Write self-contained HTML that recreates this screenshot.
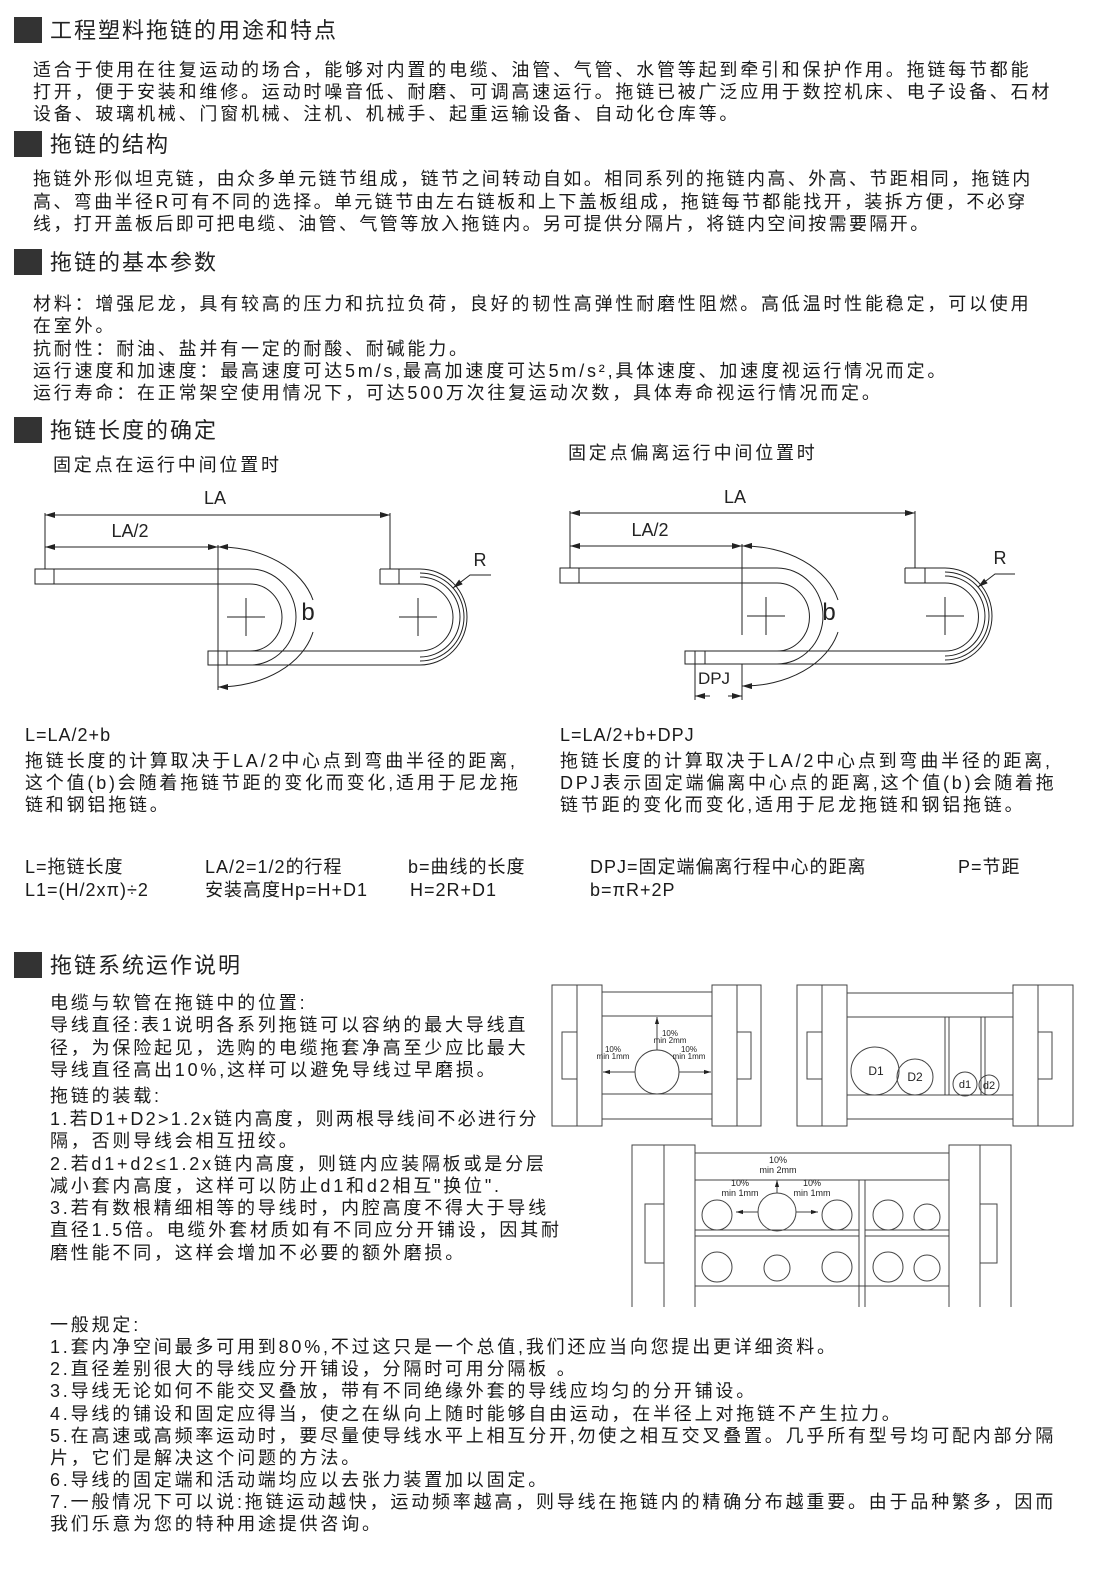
<!DOCTYPE html>
<html><head><meta charset="utf-8">
<style>
body{margin:0;background:#fff;}
#p{position:relative;width:1100px;height:1585px;overflow:hidden;background:#fff;font-family:"Liberation Sans","Noto Sans CJK SC",sans-serif;color:#1a1a1a;}
#t{position:absolute;left:0;top:4px;width:1100px;height:1585px;}
.l{position:absolute;white-space:nowrap;font-size:18px;letter-spacing:2.8px;line-height:22px;}
.h{position:absolute;white-space:nowrap;font-size:22px;letter-spacing:2px;line-height:28px;color:#222;}
.sq{position:absolute;left:14px;width:28px;height:26px;background:#333;}
svg{position:absolute;left:0;top:0;}
</style></head><body><div id="p"><div id="t">
<div class="sq" style="top:13px"></div><div class="h" style="left:50px;top:13px">工程塑料拖链的用途和特点</div>
<div class="l" style="left:33px;top:55px">适合于使用在往复运动的场合，能够对内置的电缆、油管、气管、水管等起到牵引和保护作用。拖链每节都能</div>
<div class="l" style="left:33px;top:77px">打开，便于安装和维修。运动时噪音低、耐磨、可调高速运行。拖链已被广泛应用于数控机床、电子设备、石材</div>
<div class="l" style="left:33px;top:99px">设备、玻璃机械、门窗机械、注机、机械手、起重运输设备、自动化仓库等。</div>

<div class="sq" style="top:127px"></div><div class="h" style="left:50px;top:127px">拖链的结构</div>
<div class="l" style="left:33px;top:164px;letter-spacing:2.4px">拖链外形似坦克链，由众多单元链节组成，链节之间转动自如。相同系列的拖链内高、外高、节距相同，拖链内</div>
<div class="l" style="left:33px;top:187px;letter-spacing:2.4px">高、弯曲半径R可有不同的选择。单元链节由左右链板和上下盖板组成，拖链每节都能找开，装拆方便，不必穿</div>
<div class="l" style="left:33px;top:209px;letter-spacing:2.4px">线，打开盖板后即可把电缆、油管、气管等放入拖链内。另可提供分隔片，将链内空间按需要隔开。</div>

<div class="sq" style="top:245px"></div><div class="h" style="left:50px;top:245px">拖链的基本参数</div>
<div class="l" style="left:33px;top:289px">材料：增强尼龙，具有较高的压力和抗拉负荷，良好的韧性高弹性耐磨性阻燃。高低温时性能稳定，可以使用</div>
<div class="l" style="left:33px;top:311px">在室外。</div>
<div class="l" style="left:33px;top:334px">抗耐性：耐油、盐并有一定的耐酸、耐碱能力。</div>
<div class="l" style="left:33px;top:356px">运行速度和加速度：最高速度可达5m/s,最高加速度可达5m/s²,具体速度、加速度视运行情况而定。</div>
<div class="l" style="left:33px;top:378px">运行寿命：在正常架空使用情况下，可达500万次往复运动次数，具体寿命视运行情况而定。</div>

<div class="sq" style="top:413px"></div><div class="h" style="left:50px;top:413px">拖链长度的确定</div>
<div class="l" style="left:53px;top:450px">固定点在运行中间位置时</div>
<div class="l" style="left:568px;top:438px">固定点偏离运行中间位置时</div>

<div class="l" style="left:25px;top:720px;letter-spacing:1px">L=LA/2+b</div>
<div class="l" style="left:25px;top:746px">拖链长度的计算取决于LA/2中心点到弯曲半径的距离,</div>
<div class="l" style="left:25px;top:768px">这个值(b)会随着拖链节距的变化而变化,适用于尼龙拖</div>
<div class="l" style="left:25px;top:790px">链和钢铝拖链。</div>
<div class="l" style="left:560px;top:720px;letter-spacing:1px">L=LA/2+b+DPJ</div>
<div class="l" style="left:560px;top:746px">拖链长度的计算取决于LA/2中心点到弯曲半径的距离,</div>
<div class="l" style="left:560px;top:768px">DPJ表示固定端偏离中心点的距离,这个值(b)会随着拖</div>
<div class="l" style="left:560px;top:790px">链节距的变化而变化,适用于尼龙拖链和钢铝拖链。</div>

<div class="l" style="left:25px;top:852px;letter-spacing:1px">L=拖链长度</div>
<div class="l" style="left:205px;top:852px;letter-spacing:1px">LA/2=1/2的行程</div>
<div class="l" style="left:408px;top:852px;letter-spacing:1px">b=曲线的长度</div>
<div class="l" style="left:590px;top:852px;letter-spacing:1px">DPJ=固定端偏离行程中心的距离</div>
<div class="l" style="left:958px;top:852px;letter-spacing:1px">P=节距</div>
<div class="l" style="left:25px;top:875px;letter-spacing:1px">L1=(H/2xπ)÷2</div>
<div class="l" style="left:205px;top:875px;letter-spacing:1px">安装高度Hp=H+D1</div>
<div class="l" style="left:410px;top:875px;letter-spacing:1px">H=2R+D1</div>
<div class="l" style="left:590px;top:875px;letter-spacing:1px">b=πR+2P</div>

<div class="sq" style="top:948px"></div><div class="h" style="left:50px;top:948px">拖链系统运作说明</div>
<div class="l" style="left:50px;top:988px">电缆与软管在拖链中的位置:</div>
<div class="l" style="left:50px;top:1010px">导线直径:表1说明各系列拖链可以容纳的最大导线直</div>
<div class="l" style="left:50px;top:1033px">径，为保险起见，选购的电缆拖套净高至少应比最大</div>
<div class="l" style="left:50px;top:1055px">导线直径高出10%,这样可以避免导线过早磨损。</div>
<div class="l" style="left:50px;top:1081px">拖链的装载:</div>
<div class="l" style="left:50px;top:1104px;letter-spacing:2.3px">1.若D1+D2&gt;1.2x链内高度，则两根导线间不必进行分</div>
<div class="l" style="left:50px;top:1126px">隔，否则导线会相互扭绞。</div>
<div class="l" style="left:50px;top:1149px">2.若d1+d2≤1.2x链内高度，则链内应装隔板或是分层</div>
<div class="l" style="left:50px;top:1171px">减小套内高度，这样可以防止d1和d2相互"换位".</div>
<div class="l" style="left:50px;top:1193px">3.若有数根精细相等的导线时，内腔高度不得大于导线</div>
<div class="l" style="left:50px;top:1215px">直径1.5倍。电缆外套材质如有不同应分开铺设，因其耐</div>
<div class="l" style="left:50px;top:1238px">磨性能不同，这样会增加不必要的额外磨损。</div>

<div class="l" style="left:50px;top:1310px">一般规定:</div>
<div class="l" style="left:50px;top:1332px">1.套内净空间最多可用到80%,不过这只是一个总值,我们还应当向您提出更详细资料。</div>
<div class="l" style="left:50px;top:1354px">2.直径差别很大的导线应分开铺设，分隔时可用分隔板 。</div>
<div class="l" style="left:50px;top:1376px">3.导线无论如何不能交叉叠放，带有不同绝缘外套的导线应均匀的分开铺设。</div>
<div class="l" style="left:50px;top:1399px">4.导线的铺设和固定应得当，使之在纵向上随时能够自由运动，在半径上对拖链不产生拉力。</div>
<div class="l" style="left:50px;top:1421px">5.在高速或高频率运动时，要尽量使导线水平上相互分开,勿使之相互交叉叠置。几乎所有型号均可配内部分隔</div>
<div class="l" style="left:50px;top:1443px">片，它们是解决这个问题的方法。</div>
<div class="l" style="left:50px;top:1465px">6.导线的固定端和活动端均应以去张力装置加以固定。</div>
<div class="l" style="left:50px;top:1487px">7.一般情况下可以说:拖链运动越快，运动频率越高，则导线在拖链内的精确分布越重要。由于品种繁多，因而</div>
<div class="l" style="left:50px;top:1509px">我们乐意为您的特种用途提供咨询。</div>
</div>

<svg width="1100" height="1585" viewBox="0 0 1100 1585" fill="none" stroke="#222" stroke-width="1">
<defs>
<marker id="a" viewBox="0 0 10 6" refX="10" refY="3" markerWidth="10" markerHeight="6" orient="auto-start-reverse" markerUnits="userSpaceOnUse"><path d="M0,0 L10,3 L0,6z" fill="#222" stroke="none"/></marker>
<marker id="s" viewBox="0 0 10 6" refX="10" refY="3" markerWidth="7" markerHeight="5" orient="auto-start-reverse" markerUnits="userSpaceOnUse"><path d="M0,0 L10,3 L0,6z" fill="#222" stroke="none"/></marker>
</defs>
<!-- LEFT chain -->
<g>
<path d="M35,569 H250 A46,48 0 0 1 250,665 H208 V651 H250 A32,33.5 0 0 0 250,584 H35 Z"/>
<line x1="54" y1="569" x2="54" y2="584"/>
<line x1="227" y1="651" x2="227" y2="665"/>
<line x1="250" y1="651" x2="420" y2="651"/><line x1="250" y1="665" x2="420" y2="665"/>
<path d="M380,569 H420 A47,48 0 0 1 420,665"/>
<path d="M420,651 A33,33.5 0 0 0 420,584 H380 V569"/>
<line x1="399" y1="569" x2="399" y2="584"/>
<path d="M420,577 A40,40 0 0 1 420,657 M420,573 A44,44 0 0 1 420,661"/>
<line x1="227" y1="617" x2="265" y2="617"/><line x1="246" y1="598" x2="246" y2="636"/>
<line x1="399" y1="617" x2="437" y2="617"/><line x1="418" y1="598" x2="418" y2="636"/>
<line x1="45" y1="515" x2="390" y2="515" marker-start="url(#a)" marker-end="url(#a)"/>
<line x1="45" y1="513" x2="45" y2="569"/><line x1="390" y1="513" x2="390" y2="569"/>
<line x1="45" y1="547" x2="218" y2="547" marker-start="url(#a)" marker-end="url(#a)"/>
<line x1="218" y1="545" x2="218" y2="690"/>
<path d="M218,547 A97,70 0 0 1 313,600" marker-start="url(#a)"/>
<path d="M313,632 A97,70 0 0 1 218,687" marker-end="url(#a)"/>
<path d="M491,575 H470 L453,588" marker-end="url(#a)"/>
</g>
<!-- RIGHT chain -->
<g>
<path d="M560,568 H777 A46,48 0 0 1 777,664 H685 V651 H777 A32,33.5 0 0 0 777,583 H560 Z"/>
<line x1="579" y1="568" x2="579" y2="583"/>
<line x1="695" y1="651" x2="695" y2="664"/><line x1="705" y1="651" x2="705" y2="664"/>
<line x1="777" y1="651" x2="945" y2="651"/><line x1="777" y1="664" x2="945" y2="664"/>
<path d="M905,568 H945 A47,48 0 0 1 945,664"/>
<path d="M945,651 A33,33.5 0 0 0 945,583 H905 V568"/>
<line x1="925" y1="568" x2="925" y2="583"/>
<path d="M945,576 A40,40 0 0 1 945,656 M945,572 A44,44 0 0 1 945,660"/>
<line x1="747" y1="616" x2="785" y2="616"/><line x1="766" y1="597" x2="766" y2="635"/>
<line x1="926" y1="616" x2="964" y2="616"/><line x1="945" y1="597" x2="945" y2="635"/>
<line x1="570" y1="513" x2="915" y2="513" marker-start="url(#a)" marker-end="url(#a)"/>
<line x1="570" y1="511" x2="570" y2="568"/><line x1="915" y1="511" x2="915" y2="568"/>
<line x1="570" y1="546" x2="742" y2="546" marker-start="url(#a)" marker-end="url(#a)"/>
<line x1="742" y1="544" x2="742" y2="635"/><line x1="742" y1="664" x2="742" y2="700"/>
<path d="M742,546 A97,70 0 0 1 838,600" marker-start="url(#a)"/>
<path d="M838,632 A97,70 0 0 1 742,686" marker-end="url(#a)"/>
<line x1="695" y1="664" x2="695" y2="700"/>
<line x1="710" y1="696" x2="695" y2="696" marker-end="url(#a)"/>
<line x1="728" y1="696" x2="742" y2="696" marker-end="url(#a)"/>
<path d="M1015,574 H995 L978,587" marker-end="url(#a)"/>
</g>
<g fill="#222" stroke="none" font-family="Liberation Sans, sans-serif">
<text x="215" y="504" font-size="18" text-anchor="middle">LA</text>
<text x="130" y="537" font-size="18" text-anchor="middle">LA/2</text>
<text x="308" y="620" font-size="24" text-anchor="middle">b</text>
<text x="480" y="566" font-size="18" text-anchor="middle">R</text>
<text x="735" y="503" font-size="18" text-anchor="middle">LA</text>
<text x="650" y="536" font-size="18" text-anchor="middle">LA/2</text>
<text x="829" y="620" font-size="24" text-anchor="middle">b</text>
<text x="1000" y="564" font-size="18" text-anchor="middle">R</text>
<text x="714" y="684" font-size="17" text-anchor="middle">DPJ</text>
</g>
<!-- Diagram A -->
<g stroke="#444">
<rect x="552" y="985" width="50" height="141"/><line x1="577" y1="985" x2="577" y2="1126"/>
<rect x="562" y="1032" width="15" height="47"/>
<rect x="602" y="992" width="110" height="24"/><rect x="602" y="1094" width="110" height="25"/>
<rect x="712" y="985" width="49" height="141"/><line x1="737" y1="985" x2="737" y2="1126"/>
<rect x="737" y="1032" width="14" height="47"/>
<circle cx="657" cy="1072" r="22"/>
<line x1="657" y1="1050" x2="657" y2="1017" marker-end="url(#s)"/>
<line x1="635" y1="1072" x2="603" y2="1072" marker-end="url(#s)"/>
<line x1="679" y1="1072" x2="711" y2="1072" marker-end="url(#s)"/>
</g>
<!-- Diagram B -->
<g stroke="#444">
<rect x="797" y="985" width="50" height="141"/><line x1="822" y1="985" x2="822" y2="1126"/>
<rect x="807" y="1032" width="15" height="47"/>
<rect x="847" y="993" width="166" height="24"/><rect x="847" y="1095" width="166" height="24"/>
<rect x="1013" y="985" width="60" height="141"/><line x1="1038" y1="985" x2="1038" y2="1126"/>
<rect x="1038" y="1032" width="14" height="47"/>
<line x1="945" y1="1017" x2="945" y2="1095"/><line x1="949" y1="1017" x2="949" y2="1095"/>
<line x1="981" y1="1017" x2="981" y2="1095"/><line x1="985" y1="1017" x2="985" y2="1095"/>
<circle cx="875" cy="1071" r="24"/><circle cx="915" cy="1077" r="18"/>
<circle cx="965" cy="1084" r="12"/><circle cx="989" cy="1085" r="10"/>
</g>
<!-- Diagram C -->
<g stroke="#444">
<path d="M632,1307 V1145 H695 V1307 M664,1145 V1307"/>
<rect x="645" y="1204" width="19" height="59"/>
<path d="M1011,1307 V1145 H949 V1307 M980,1145 V1307"/>
<rect x="980" y="1204" width="17" height="59"/>
<line x1="695" y1="1153" x2="949" y2="1153"/><line x1="695" y1="1180" x2="949" y2="1180"/>
<line x1="695" y1="1230" x2="859" y2="1230"/><line x1="695" y1="1236" x2="859" y2="1236"/>
<line x1="865" y1="1230" x2="949" y2="1230"/><line x1="865" y1="1236" x2="949" y2="1236"/>
<line x1="695" y1="1286" x2="949" y2="1286"/>
<line x1="859" y1="1180" x2="859" y2="1307"/><line x1="865" y1="1180" x2="865" y2="1307"/>
<circle cx="717" cy="1215" r="15"/><circle cx="777" cy="1212" r="19"/><circle cx="837" cy="1215" r="15"/>
<circle cx="888" cy="1215" r="15"/><circle cx="927" cy="1217" r="13"/>
<circle cx="717" cy="1267" r="15"/><circle cx="777" cy="1268" r="13"/><circle cx="837" cy="1267" r="15"/>
<circle cx="888" cy="1267" r="15"/><circle cx="927" cy="1268" r="13"/>
<line x1="777" y1="1193" x2="777" y2="1180" marker-end="url(#s)"/>
<line x1="758" y1="1212" x2="736" y2="1212" marker-end="url(#s)"/>
<line x1="796" y1="1212" x2="818" y2="1212" marker-end="url(#s)"/>
</g>
<g fill="#222" stroke="none" font-family="Liberation Sans, sans-serif" text-anchor="middle">
<text x="670" y="1036" font-size="8">10%</text><text x="670" y="1043" font-size="8">min 2mm</text>
<text x="613" y="1052" font-size="8">10%</text><text x="613" y="1059" font-size="8">min 1mm</text>
<text x="689" y="1052" font-size="8">10%</text><text x="689" y="1059" font-size="8">min 1mm</text>
<text x="876" y="1075" font-size="12">D1</text><text x="915" y="1081" font-size="12">D2</text>
<text x="965" y="1088" font-size="11">d1</text><text x="989" y="1089" font-size="11">d2</text>
<text x="778" y="1163" font-size="9">10%</text><text x="778" y="1173" font-size="9">min 2mm</text>
<text x="740" y="1186" font-size="9">10%</text><text x="740" y="1196" font-size="9">min 1mm</text>
<text x="812" y="1186" font-size="9">10%</text><text x="812" y="1196" font-size="9">min 1mm</text>
</g>
</svg>
</div></body></html>
